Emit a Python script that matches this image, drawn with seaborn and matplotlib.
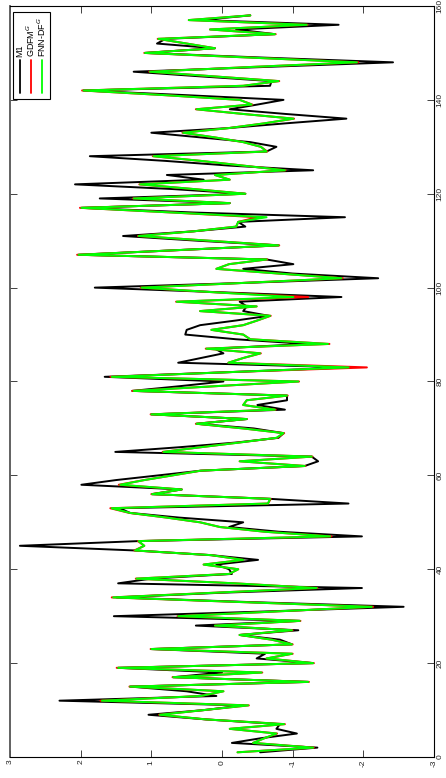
import matplotlib
matplotlib.use("Agg")
import matplotlib.pyplot as plt
import seaborn as sns
import pandas as pd
from matplotlib.lines import Line2D
from matplotlib.patches import Rectangle

# time index of the forecasts
t_index = list(range(1, 159))

# M1 (black)
m1 = [
    -0.54, -1.35, -0.14, -0.55, -1.06, -0.77, -0.82, 0.22, 1.04, 0.25,
    -0.30, 2.30, 0.08, 0.50, 1.30, -1.22, 0.69, 0.00, 1.47, -1.29,
    -0.49, -0.61, 1.00, -0.99, -0.82, -0.25, -1.08, 0.37, -1.10, 1.53,
    -0.60, -2.57, -0.40, 1.49, 0.00, -1.98, 1.47, 1.00, -0.14, -0.10,
    0.08, -0.51, 0.15, 1.23, 2.86, 1.18, -1.98, -0.80, -0.10, -0.30,
    0.60, 1.30, 1.45, -1.79, -0.68, 0.99, 0.57, 1.99, 1.50, 0.90,
    0.30, -1.17, -1.36, -1.27, 1.51, 0.60, -0.20, -0.80, -0.87, -0.45,
    0.36, -0.35, 1.00, -0.89, -0.50, -0.92, -0.92, 1.27, 0.60, -0.02,
    1.66, -0.11, -1.79, 0.62, 0.30, -0.02, 0.10, -1.20, -0.20, 0.52,
    0.50, 0.31, -0.20, -0.66, -0.30, -0.35, -0.25, -1.69, 0.00, 1.80,
    -0.30, -2.21, -1.00, -0.30, -1.01, -0.63, 2.03, 0.60, -0.80, 0.35,
    1.40, 0.40, -0.33, -0.23, -1.74, 0.40, 1.99, -0.11, 1.73, -0.33,
    0.70, 2.08, 0.26, 0.78, -1.29, -0.10, 0.80, 1.87, -0.63, -0.77,
    -0.40, 0.30, 1.00, -0.10, -0.90, -1.76, -0.90, -0.11, -0.50, -0.87,
    0.50, 1.96, -0.68, -0.70, 0.30, 1.25, -0.60, -2.42, -0.60, 1.09,
    0.10, 0.92, 0.80, -0.75, -0.20, -1.65, 0.30, -0.40,
]

# GDFM^G (red)
gdfm = [
    -0.22, -1.30, -0.44, -0.60, -0.78, -0.11, -0.89, 0.22, 0.89, 0.25,
    -0.38, 1.72, 0.30, -0.02, 1.31, -1.23, 0.70, -0.57, 1.49, -1.30,
    -0.63, -1.00, 1.01, -1.00, -0.70, -0.25, -1.00, 0.10, -1.11, 0.63,
    -0.75, -2.14, -0.30, 1.56, 0.10, -1.35, -0.18, 1.22, -0.10, -0.23,
    0.26, -0.30, 0.15, 1.24, 1.10, 1.19, -1.55, -0.60, 0.03, 0.31,
    0.78, 1.31, 1.58, -0.65, -0.69, 1.00, 0.57, 1.46, 1.10, 0.70,
    0.30, -1.18, -0.25, -1.28, 0.84, 0.30, -0.25, -0.78, -0.88, -0.30,
    0.37, -0.35, 1.01, -0.76, -0.30, -0.35, -0.93, 1.27, 0.10, -1.09,
    1.58, -0.11, -2.05, -0.09, -0.30, -0.55, 0.23, -1.52, -0.40, -0.30,
    0.15, -0.30, -0.50, -0.69, 0.31, -0.49, 0.65, -1.22, 0.10, 1.15,
    -0.30, -1.71, -0.80, 0.08, -0.10, -0.64, 2.05, 0.60, -0.81, 0.20,
    1.19, 0.40, -0.20, -0.23, -0.50, 0.70, 2.01, -0.11, 1.26, -0.33,
    0.40, 1.17, -0.11, 0.10, -0.90, -0.30, 0.30, 0.98, -0.64, -0.55,
    -0.30, 0.10, 0.56, -0.10, -0.60, -1.02, -0.30, 0.37, -0.43, -0.25,
    0.80, 1.98, -0.30, -0.81, 0.10, 1.03, -0.40, -1.93, -0.40, 1.10,
    0.10, 0.50, 0.91, -0.76, 0.17, -1.21, 0.47, -0.40,
]

# FNN-DF^G (green)
fnn_df = [
    -0.22, -1.29, -0.44, -0.60, -0.77, -0.11, -0.88, 0.22, 0.88, 0.25,
    -0.37, 1.70, 0.30, -0.02, 1.30, -1.22, 0.69, -0.56, 1.47, -1.29,
    -0.63, -0.99, 1.00, -0.99, -0.70, -0.25, -0.99, 0.10, -1.10, 0.62,
    -0.75, -2.12, -0.30, 1.54, 0.10, -1.34, -0.18, 1.21, -0.10, -0.23,
    0.26, -0.30, 0.15, 1.23, 1.10, 1.18, -1.53, -0.60, 0.03, 0.31,
    0.78, 1.30, 1.56, -0.65, -0.68, 0.99, 0.57, 1.44, 1.10, 0.70,
    0.30, -1.17, -0.25, -1.27, 0.83, 0.30, -0.25, -0.77, -0.87, -0.30,
    0.36, -0.35, 1.00, -0.75, -0.30, -0.35, -0.92, 1.25, 0.10, -1.08,
    1.56, -0.11, -1.79, -0.09, -0.30, -0.54, 0.22, -1.50, -0.40, -0.30,
    0.15, -0.30, -0.50, -0.68, 0.31, -0.49, 0.64, -1.01, 0.10, 1.14,
    -0.30, -1.69, -0.80, 0.08, -0.10, -0.63, 2.03, 0.60, -0.80, 0.20,
    1.18, 0.40, -0.20, -0.23, -0.63, 0.70, 1.99, -0.11, 1.25, -0.33,
    0.40, 1.16, -0.11, 0.10, -0.89, -0.30, 0.30, 0.97, -0.63, -0.55,
    -0.30, 0.10, 0.55, -0.10, -0.60, -1.01, -0.30, 0.36, -0.42, -0.25,
    0.80, 1.96, -0.30, -0.80, 0.10, 1.02, -0.40, -1.91, -0.40, 1.09,
    0.10, 0.50, 0.90, -0.75, 0.17, -1.20, 0.47, -0.40,
]

series_names = ["M1", "GDFM$^G$", "FNN-DF$^G$"]
series_colors = ["#000000", "#ff0000", "#00ff00"]
value_ticks = [3, 2, 1, 0, -1, -2, -3]
index_ticks = [0, 20, 40, 60, 80, 100, 120, 140, 160]

sns.set_theme(style="ticks")
plt.rcParams['font.family'] = ['Liberation Sans', 'DejaVu Sans']

W, H = 446, 778
fig = plt.figure(figsize=(W / 100, H / 100), dpi=100)
ax = fig.add_axes([10 / W, 21 / H, 424 / W, 751 / H])

# the chart is drawn turned by 90 degrees: values run across, time runs up
for vals, name, col, lw in zip([m1, gdfm, fnn_df], series_names, series_colors, [1.4, 1.45, 1.45]):
    df = pd.DataFrame({"t": t_index, "v": vals})
    sns.lineplot(data=df, x="v", y="t", sort=False, estimator=None, orient="y",
                 color=col, linewidth=lw, ax=ax)

ax.set_xlim(3, -3)
ax.set_ylim(0, 160)
ax.set_xlabel("")
ax.set_ylabel("")

ax.set_xticks(value_ticks)
ax.set_xticklabels([str(v) for v in value_ticks], rotation=90)
ax.set_yticks(index_ticks)
ax.set_yticklabels([str(v) for v in index_ticks], rotation=90, va="center")
ax.tick_params(axis="both", direction="in", length=5, width=0.6, labelsize=6,
               colors="#222222", pad=2, top=True, bottom=True, left=True, right=True,
               labelleft=False, labelright=True)

for side in ["top", "right", "bottom"]:
    ax.spines[side].set_visible(True)
    ax.spines[side].set_color("black")
    ax.spines[side].set_linewidth(0.8)
ax.spines["left"].set_color("#555555")
ax.spines["left"].set_linewidth(1.3)

# legend, turned like the rest of the chart
def px_to_ax(px, py):
    return (px - 10) / 424, (757 - py) / 751

x0, y0 = px_to_ax(12.7, 99)
x1, y1 = px_to_ax(50, 12)
ax.add_patch(Rectangle((x0, y0), x1 - x0, y1 - y0, transform=ax.transAxes,
                       facecolor="white", edgecolor="black", linewidth=0.8, zorder=5))
for lx, name, col in zip([20, 30.7, 42.3], series_names, series_colors):
    ax_x, ya = px_to_ax(lx, 93)
    _, yb = px_to_ax(lx, 60)
    ax.add_line(Line2D([ax_x, ax_x], [ya, yb], transform=ax.transAxes, color=col,
                       linewidth=1.3, zorder=6))
    _, yt = px_to_ax(lx, 57)
    ax.text(ax_x, yt, name, transform=ax.transAxes, rotation=90, ha="center", va="bottom",
            fontsize=6.5, color="black", zorder=6)

fig.savefig("out.png", dpi=100)
